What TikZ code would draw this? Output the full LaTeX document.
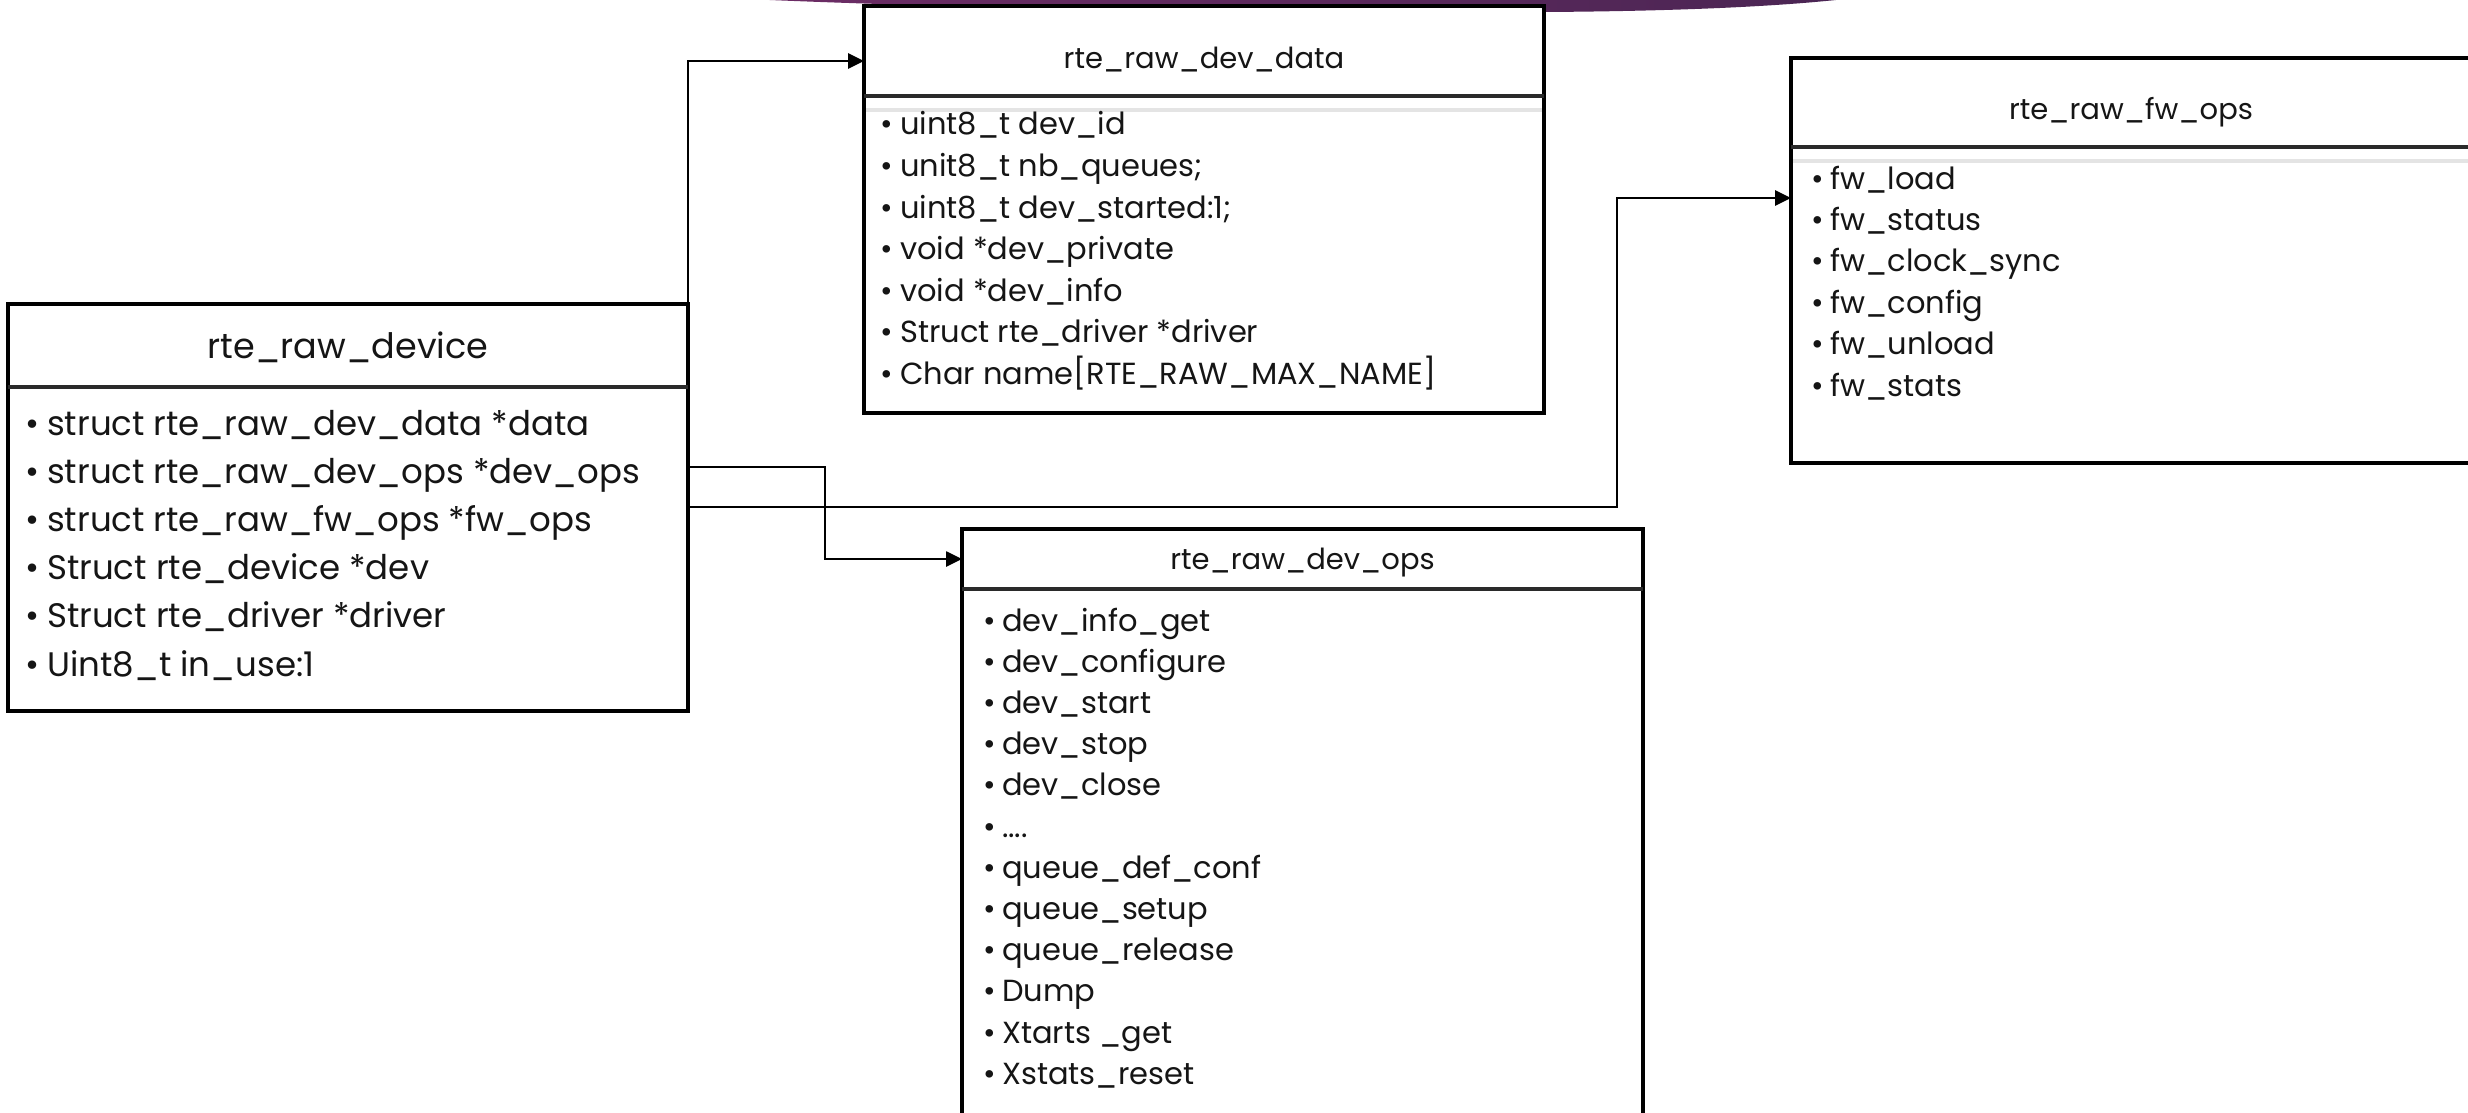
\documentclass[tikz,border=0pt]{standalone}
\usepackage{fontspec}
\setmainfont{Poppins}
\usetikzlibrary{arrows.meta}
\definecolor{ink}{HTML}{151515}
\definecolor{divc}{HTML}{2A2A2A}
\definecolor{bandc}{HTML}{E4E4E4}
\definecolor{purpL}{HTML}{6E2D66}
\definecolor{purpR}{HTML}{4A2553}
\newcommand{\fourdots}{.{}.{}.{}.}
\begin{document}
\begin{tikzpicture}[x=1pt,y=-1pt,
  box/.style={draw=black, line width=3.5pt, fill=white, inner sep=0pt, outer sep=0pt},
  hdr/.style={inner sep=0pt, outer sep=0pt},
  divl/.style={draw=divc, line width=4pt},
  band/.style={draw=bandc, line width=4pt, shorten <=2pt, shorten >=2pt},
  ttlA/.style={anchor=base, inner sep=0pt, text=ink, font=\fontsize{35}{35}\selectfont},
  ttlB/.style={anchor=base, inner sep=0pt, text=ink, font=\fontsize{29}{29}\selectfont},
  itemA/.style={anchor=base west, inner sep=0pt, text=ink, font=\fontsize{34}{34}\selectfont},
  itemB/.style={anchor=base west, inner sep=0pt, text=ink, font=\fontsize{30.5}{30.5}\selectfont},
  conn/.style={draw=black, line width=2.6pt},
  arr/.style={conn, -{Triangle[length=16pt,width=15pt]}}
]
\useasboundingbox (0,0) rectangle (2468,1113);
% purple band at top
\shade[left color=purpL, right color=purpR] (705,-3) -- (1862,-3) .. controls (1800,5) and (1700,11) .. (1545,12) .. controls (1200,13) and (900,7) .. (705,-3) -- cycle;

% ---- rte_raw_device
\node[box, minimum width=680pt, minimum height=407pt] (A) at (348,507.5) {};
\node[hdr, minimum width=680pt, minimum height=83pt] (Ah) at (348,345.5) {};
\draw[divl] (Ah.south west) -- (Ah.south east);
\node[ttlA] (At) at (348,358) {rte\_raw\_device};
\foreach \t [count=\i] in {struct rte\_raw\_dev\_data *data, struct rte\_raw\_dev\_ops *dev\_ops, struct rte\_raw\_fw\_ops *fw\_ops, Struct rte\_device *dev, Struct rte\_driver *driver, Uint8\_t in\_use:1}
  \node[itemA] (a\i) at (25,{435+48.2*(\i-1)}) {\makebox[22pt][l]{•}\t};

% ---- rte_raw_dev_data
\node[box, minimum width=680pt, minimum height=407pt] (B) at (1204,209.5) {};
\node[hdr, minimum width=680pt, minimum height=90pt] (Bh) at (1204,51) {};
\draw[divl] (Bh.south west) -- (Bh.south east);
\draw[band] ([yshift=-14pt]Bh.south west) -- ([yshift=-14pt]Bh.south east);
\node[ttlB] (Bt) at (1204,69) {rte\_raw\_dev\_data};
\foreach \t [count=\i] in {uint8\_t dev\_id, unit8\_t nb\_queues;, uint8\_t dev\_started:1;, void *dev\_private, void *dev\_info, Struct rte\_driver *driver, {Char name[RTE\_RAW\_MAX\_NAME]}}
  \node[itemB] (b\i) at (880,{135+41.5*(\i-1)}) {\makebox[20pt][l]{•}\t};

% ---- rte_raw_fw_ops
\node[box, minimum width=680pt, minimum height=405pt] (C) at (2131,260.5) {};
\node[hdr, minimum width=680pt, minimum height=89pt] (Ch) at (2131,102.5) {};
\draw[divl] (Ch.south west) -- (Ch.south east);
\draw[band] ([yshift=-14pt]Ch.south west) -- ([yshift=-14pt]Ch.south east);
\node[ttlB] (Ct) at (2131,120) {rte\_raw\_fw\_ops};
\foreach \t [count=\i] in {fw\_load, fw\_status, fw\_clock\_sync, fw\_config, fw\_unload, fw\_stats}
  \node[itemB] (c\i) at (1811,{189+41.4*(\i-1)}) {\makebox[19pt][l]{•}\t};

% ---- rte_raw_dev_ops
\node[box, minimum width=681pt, minimum height=601pt] (D) at (1302.5,829.5) {};
\node[hdr, minimum width=681pt, minimum height=60pt] (Dh) at (1302.5,559) {};
\draw[divl] (Dh.south west) -- (Dh.south east);
\node[ttlB] (Dt) at (1302.5,569) {rte\_raw\_dev\_ops};
\foreach \t [count=\i] in {dev\_info\_get, dev\_configure, dev\_start, dev\_stop, dev\_close, \fourdots, queue\_def\_conf, queue\_setup, queue\_release, Dump, Xtarts \_get, Xstats\_reset}
  \node[itemB] (d\i) at (983,{631+41.2*(\i-1)}) {\makebox[19pt][l]{•}\t};

% ---- connectors
\coordinate (s2) at (688,467);
\coordinate (s3) at (688,507);
\coordinate (t3) at ([yshift=62.5pt]C.west);
\draw[arr] (A.north east) |- ([yshift=-10pt]Bh.west);
\draw[arr] (s2) -- ++(137,0) |- (Dh.west);
\draw[arr] (s3) -- ++(929,0) |- (t3);
\end{tikzpicture}
\end{document}
